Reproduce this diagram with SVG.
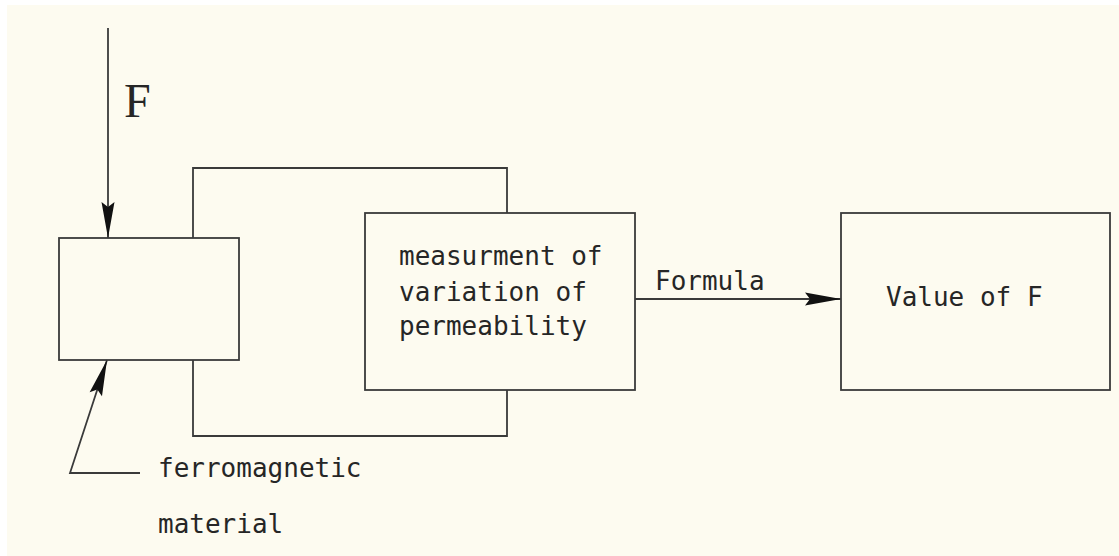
<svg xmlns="http://www.w3.org/2000/svg" width="1119" height="556" viewBox="0 0 1119 556">
<style>
.ln{fill:none;stroke:#3a3a3a;stroke-width:1.8}
.bx{fill:none;stroke:#3a3a3a;stroke-width:1.8}
.t{font-family:"DejaVu Sans Mono","Liberation Mono",monospace;font-size:26px;fill:#262626}
.f{font-family:"Liberation Serif","Times New Roman",serif;font-size:48px;fill:#262626}
</style>
<defs>
<marker id="ah" markerUnits="userSpaceOnUse" markerWidth="40" markerHeight="16" viewBox="-37 -8 38 16" refX="0" refY="0" orient="auto">
<path d="M0,0 L-36,-6.5 L-31,0 L-36,6.5 Z" fill="#111"/>
</marker>
</defs>
<rect width="1119" height="556" fill="#ffffff"/>
<rect x="7" y="5" width="1112" height="551" fill="#fdfbf0"/>
<g id="connectors">
<line class="ln" x1="108" y1="28" x2="108" y2="238" marker-end="url(#ah)"/>
<polyline class="ln" points="193,238 193,168 507,168 507,213"/>
<polyline class="ln" points="193,360 193,436 507,436 507,390"/>
<polyline class="ln" points="140,473 70,473 107,360" marker-end="url(#ah)"/>
<line class="ln" x1="635" y1="299" x2="841" y2="299" marker-end="url(#ah)"/>
</g>
<g id="label-F"><text class="f" x="124" y="117">F</text></g>
<g id="node-material"><rect class="bx" x="59" y="238" width="180" height="122"/></g>
<g id="label-ferro">
<text class="t" x="158" y="477">ferromagnetic</text>
<text class="t" x="158" y="533">material</text>
</g>
<g id="node-measure">
<rect class="bx" x="365" y="213" width="270" height="177"/>
<text class="t" x="399" y="265">measurment of</text>
<text class="t" x="399" y="301">variation of</text>
<text class="t" x="399" y="335">permeability</text>
</g>
<g id="label-formula"><text class="t" x="655" y="290">Formula</text></g>
<g id="node-value">
<rect class="bx" x="841" y="213" width="269" height="177"/>
<text class="t" x="886" y="306">Value of F</text>
</g>
</svg>
